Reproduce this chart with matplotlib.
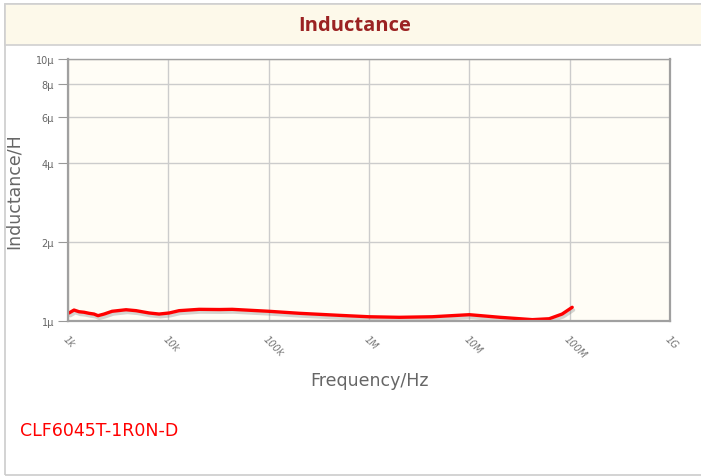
import matplotlib.pyplot as plt
import matplotlib.patheffects as pe
from matplotlib.patches import Rectangle

# Дані кривої
freq_hz = [1.023e3, 1.148e3, 1.288e3, 1.444e3, 1.62e3, 1.817e3, 1.99e3, 2.29e3, 2.75e3,
           3.79e3, 4.77e3, 6.43e3, 8.09e3, 1.02e4, 1.28e4, 2.03e4, 3.22e4, 4.33e4,
           1.01e5, 2.02e5, 5.06e5, 1.0e6, 2.0e6, 4.26e6, 1.0e7, 2.02e7, 4.25e7,
           6.25e7, 8.41e7, 1.06e8]
induct_h = [1.073e-6, 1.101e-6, 1.085e-6, 1.080e-6, 1.070e-6, 1.063e-6, 1.048e-6,
            1.063e-6, 1.089e-6, 1.104e-6, 1.095e-6, 1.073e-6, 1.063e-6, 1.073e-6,
            1.095e-6, 1.108e-6, 1.106e-6, 1.108e-6, 1.089e-6, 1.070e-6, 1.051e-6,
            1.038e-6, 1.033e-6, 1.038e-6, 1.057e-6, 1.033e-6, 1.012e-6, 1.020e-6,
            1.063e-6, 1.128e-6]

x_ticks = [1e3, 1e4, 1e5, 1e6, 1e7, 1e8, 1e9]
x_labels = ["1k", "10k", "100k", "1M", "10M", "100M", "1G"]
y_ticks = [1e-6, 2e-6, 4e-6, 6e-6, 8e-6, 10e-6]
y_labels = ["1µ", "2µ", "4µ", "6µ", "8µ", "10µ"]

title = "Inductance"
part_name = "CLF6045T-1R0N-D"

fig = plt.figure(figsize=(7.01, 4.77), dpi=100)
fig.patch.set_facecolor("white")

# Рамка і шапка
fig.add_artist(Rectangle((5 / 701, 1 / 477), 1, 471 / 477, transform=fig.transFigure,
                         facecolor="none", edgecolor="#cccccc", lw=1.2))
fig.add_artist(Rectangle((5 / 701, (477 - 46) / 477), 1, 41 / 477, transform=fig.transFigure,
                         facecolor="#fdf9ea", edgecolor="#d0d0d0", lw=1.2))
fig.text(355 / 701, (477 - 26) / 477, title, ha="center", va="center",
         fontsize=14.5, fontweight="bold", color="#9b2222", family="Open Sans")

ax = fig.add_axes([68 / 701, (477 - 322) / 477, 602 / 701, 262 / 477])
ax.set_facecolor("#fffdf6")
ax.set_xscale("log")
ax.set_yscale("log")
ax.set_xlim(1e3, 1e9)
ax.set_ylim(1e-6, 10e-6)

ax.plot(freq_hz, induct_h, color="#ff0000", lw=2.4, solid_capstyle="round",
        solid_joinstyle="round",
        path_effects=[pe.SimpleLineShadow(offset=(1, -2), shadow_color="#777777", alpha=0.3),
                      pe.Normal()])

ax.set_xticks(x_ticks)
ax.set_xticklabels(x_labels, rotation=-45, ha="left", va="top", rotation_mode="anchor",
                   fontstyle="italic", fontsize=7, color="#777777")
ax.set_yticks(y_ticks)
ax.set_yticklabels(y_labels, fontsize=7, color="#666666")
ax.minorticks_off()
ax.tick_params(axis="x", length=0, pad=9)
ax.tick_params(axis="y", length=7, color="#999999", pad=3)
ax.grid(True, color="#cccccc", lw=1)

for name, sp in ax.spines.items():
    sp.set_color("#a0a0a0")
    sp.set_linewidth(1.6 if name in ("left", "bottom", "right") else 1.0)

ax.set_xlabel("Frequency/Hz", fontsize=12.5, color="#666666", labelpad=8)
ax.set_ylabel("Inductance/H", fontsize=12.5, color="#666666", labelpad=9)

fig.text(20 / 701, (477 - 431) / 477, part_name, ha="left", va="center",
         fontsize=12.5, color="#ff0000")

fig.savefig("out.png", dpi=100)
